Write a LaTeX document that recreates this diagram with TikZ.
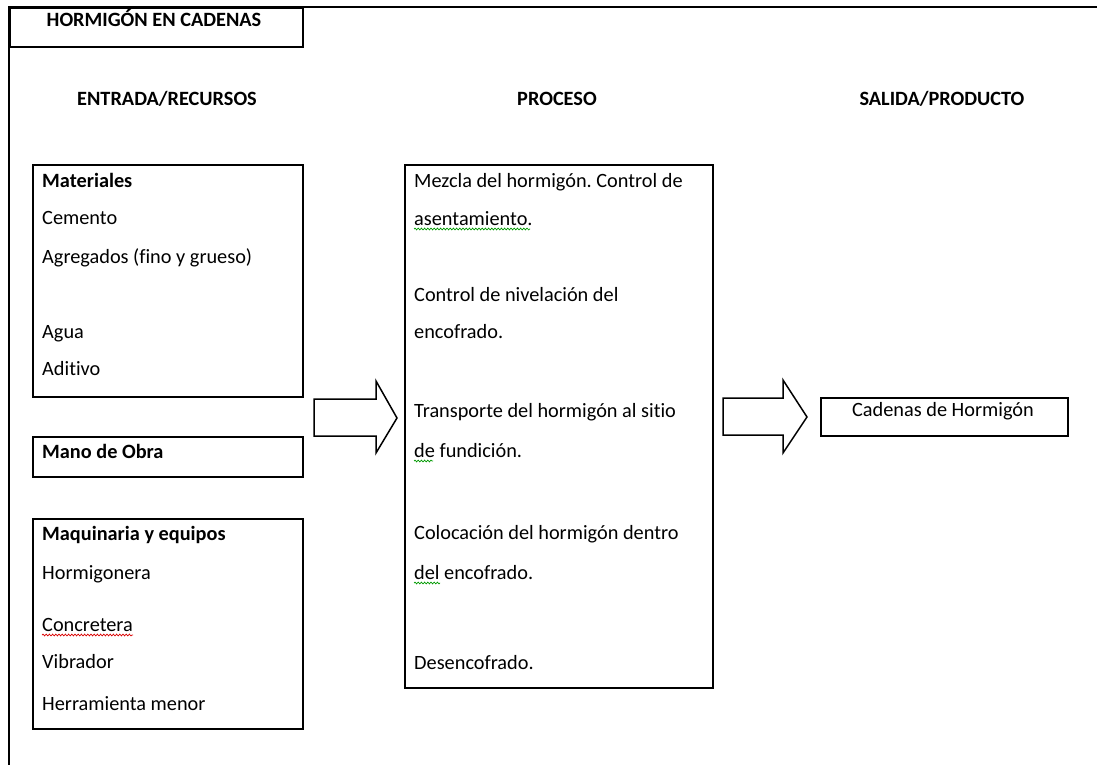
\documentclass[tikz,border=0pt]{standalone}
\usepackage{fontspec}
\setmainfont{Carlito}[Ligatures=NoCommon]
\frenchspacing
\usetikzlibrary{decorations.pathmorphing}
\begin{document}
\begin{tikzpicture}[x=1pt,y=-1pt,
  frame/.style={draw=black,line width=1.8pt},
  box/.style={draw=black,line width=1.8pt,inner sep=0pt,anchor=north west},
  txt/.style={anchor=base west,inner sep=0pt,font=\fontsize{20.3}{24}\selectfont},
  btxt/.style={anchor=base west,inner sep=0pt,font=\fontsize{20.3}{24}\selectfont\bfseries},
  head/.style={anchor=base,inner sep=0pt,font=\fontsize{20.3}{24}\selectfont\bfseries},
  blockarrow/.style={draw=black,line width=1.5pt,line join=miter,fill=white},
  squiggle/.style={decorate,decoration={snake,amplitude=0.9pt,segment length=3.2pt},line width=0.7pt}
]
\useasboundingbox (0,0) rectangle (1097,765);

% outer frame and title block
\draw[frame] (9,765) -- (9,7) -- (1097,7);
\node[box,minimum width=293pt,minimum height=39pt] (title) at (9,7) {};
\node[head] (titletext) at (154,26.5) {HORMIGÓN EN CADENAS};

% column headings
\node[head] (hin)  at (167,106) {ENTRADA/RECURSOS};
\node[head] (hpro) at (557,106) {PROCESO};
\node[head] (hout) at (942,106) {SALIDA/PRODUCTO};

% input boxes
\node[box,minimum width=270pt,minimum height=232pt] (mat) at (32,164) {};
\node[btxt] (m0) at (42,187) {Materiales};
\node[txt]  (m1) at (42,224) {Cemento};
\node[txt]  (m2) at (42,263) {Agregados (fino y grueso)};
\node[txt]  (m3) at (42,338) {Agua};
\node[txt]  (m4) at (42,375) {Aditivo};

\node[box,minimum width=270pt,minimum height=40pt] (mo) at (32,436) {};
\node[btxt] (mo0) at (42,458) {Mano de Obra};

\node[box,minimum width=270pt,minimum height=210pt] (maq) at (32,518) {};
\node[btxt] (q0) at (42,540) {Maquinaria y equipos};
\node[txt]  (q1) at (42,579) {Hormigonera};
\node[txt]  (q2) at (42,631) {Concretera};
\node[txt]  (q3) at (42,668) {Vibrador};
\node[txt]  (q4) at (42,710) {Herramienta menor};

% process box
\node[box,minimum width=308pt,minimum height=523pt] (proc) at (404,164) {};
\node[txt] (p1)  at (414,187) {Mezcla del hormigón. Control de};
\node[txt] (p1b) at (414,225) {asentamiento.};
\node[txt] (p2)  at (414,301) {Control de nivelación del};
\node[txt] (p2b) at (414,338) {encofrado.};
\node[txt] (p3)  at (414,417) {Transporte del hormigón al sitio};
\node[txt] (p3b) at (414,457) {de fundición.};
\node[txt] (p4)  at (414,539) {Colocación del hormigón dentro};
\node[txt] (p4b) at (414,579) {del encofrado.};
\node[txt] (p5)  at (414,669) {Desencofrado.};

% output box
\node[box,minimum width=247pt,minimum height=38pt] (out) at (820,397) {};
\node[head,font=\fontsize{20.3}{24}\selectfont] (outtext) at (943,416) {Cadenas de Hormigón};

% block arrows
\coordinate (a1) at (314,399);
\draw[blockarrow] (a1) -- ++(62,0) -- ++(0,-18) -- ++(21,37) -- ++(-21,35)
  -- ++(0,-17) -- ++(-62,0) -- cycle;
\coordinate (a2) at (723,398);
\draw[blockarrow] (a2) -- ++(60,0) -- ++(0,-18) -- ++(24,37) -- ++(-24,36)
  -- ++(0,-18) -- ++(-60,0) -- cycle;

% spelling marks under words
\draw[squiggle,green!60!black] (p1b.base west) ++(0,4) -- ++(116,0);
\draw[squiggle,green!60!black] (p3b.base west) ++(0,4) -- ++(19,0);
\draw[squiggle,green!60!black] (p4b.base west) ++(0,4) -- ++(26,0);
\draw[squiggle,red!85!black] (q2.base west) ++(0,4) -- ++(91,0);
\end{tikzpicture}
\end{document}
